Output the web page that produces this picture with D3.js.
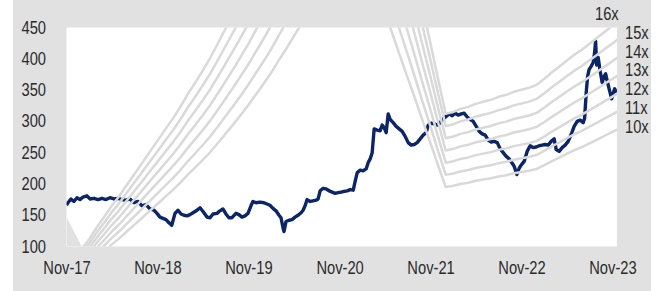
<!DOCTYPE html>
<html>
<head>
<meta charset="utf-8">
<title>PE bands</title>
<script src="https://d3js.org/d3.v7.min.js"></script>
<style>
  body { margin: 0; background: #fff; }
  .lbl { font-family: "Liberation Sans", Arial, sans-serif; font-size: 17.5px; fill: #2b2b2b; }
</style>
</head>
<body>
<div id="chart"></div>
<script>
// price, decimal year -> value
var price = [
  [2017.833,166],[2017.849,170],[2017.882,176],[2017.915,172],[2017.948,178],[2017.981,175],
  [2018.014,179],[2018.058,181],[2018.091,176],[2018.135,177],[2018.179,175],[2018.223,177],
  [2018.267,175],[2018.311,178],[2018.355,176],[2018.399,177],[2018.443,175],[2018.487,174],
  [2018.531,176],[2018.575,170],[2018.619,172],[2018.663,165],[2018.707,167],[2018.751,160],
  [2018.795,158],[2018.828,153],[2018.861,147],[2018.894,145],[2018.927,143],[2018.960,138],
  [2018.990,134],[2019.026,153],[2019.059,158],[2019.092,152],[2019.125,150],[2019.158,149],
  [2019.191,151],[2019.224,154],[2019.268,158],[2019.301,162],[2019.334,156],[2019.378,147],
  [2019.411,146],[2019.444,152],[2019.488,153],[2019.520,157],[2019.553,160],[2019.586,152],
  [2019.619,146],[2019.652,146],[2019.696,153],[2019.729,151],[2019.762,147],[2019.795,149],
  [2019.828,153],[2019.861,165],[2019.883,172],[2019.916,170],[2019.960,171],[2020.004,170],
  [2020.037,168],[2020.070,166],[2020.103,161],[2020.136,157],[2020.169,150],[2020.191,146],
  [2020.213,130],[2020.224,124],[2020.246,140],[2020.279,142],[2020.312,143],[2020.345,147],
  [2020.378,150],[2020.411,154],[2020.433,158],[2020.455,165],[2020.477,175],[2020.510,172],
  [2020.543,173],[2020.576,174],[2020.598,176],[2020.620,189],[2020.653,193],[2020.686,192],
  [2020.719,189],[2020.752,187],[2020.785,185],[2020.818,186],[2020.851,187],[2020.884,188],
  [2020.917,189],[2020.950,191],[2020.983,190],[2021.005,205],[2021.027,218],[2021.060,222],
  [2021.092,221],[2021.125,224],[2021.147,234],[2021.169,240],[2021.191,250],[2021.213,288],
  [2021.246,286],[2021.279,285],[2021.301,294],[2021.323,290],[2021.345,282],[2021.367,312],
  [2021.389,303],[2021.422,298],[2021.455,292],[2021.488,288],[2021.521,284],[2021.554,276],
  [2021.587,266],[2021.620,262],[2021.653,263],[2021.686,266],[2021.719,272],[2021.752,278],
  [2021.785,282],[2021.807,294],[2021.840,297],[2021.873,296],[2021.906,294],[2021.939,298],
  [2021.972,304],[2022.005,308],[2022.038,312],[2022.071,309],[2022.104,313],[2022.137,310],
  [2022.170,312],[2022.203,313],[2022.236,307],[2022.269,303],[2022.302,300],[2022.335,292],
  [2022.368,284],[2022.401,280],[2022.434,278],[2022.467,270],[2022.500,267],[2022.533,268],
  [2022.566,266],[2022.599,256],[2022.632,250],[2022.665,244],[2022.698,240],[2022.731,233],
  [2022.753,228],[2022.782,215],[2022.807,225],[2022.829,230],[2022.862,236],[2022.895,252],
  [2022.928,261],[2022.961,258],[2022.994,259],[2023.027,261],[2023.060,262],[2023.093,263],
  [2023.126,262],[2023.159,268],[2023.192,272],[2023.214,255],[2023.247,252],[2023.280,258],
  [2023.313,262],[2023.346,268],[2023.379,279],[2023.412,292],[2023.445,300],[2023.478,302],
  [2023.511,298],[2023.527,305],[2023.544,345],[2023.560,372],[2023.577,383],[2023.599,388],
  [2023.621,394],[2023.637,410],[2023.648,428],[2023.659,390],[2023.676,402],[2023.698,380],
  [2023.720,362],[2023.742,372],[2023.758,376],[2023.775,365],[2023.791,355],[2023.808,345],
  [2023.824,336],[2023.841,345],[2023.857,352],[2023.879,346]
];

// forward EPS used for the PE bands, by month
var eps = [
  ["2017-11",4.0],["2017-12",5.0],["2018-01",6.0],["2018-02",7.0],["2018-03",8.1],["2018-04",9.2],
  ["2018-05",10.3],["2018-06",11.3],["2018-07",12.4],["2018-08",13.5],["2018-09",14.6],["2018-10",15.7],
  ["2018-11",16.8],["2018-12",17.9],["2019-01",19.0],["2019-02",20.2],["2019-03",21.4],["2019-04",22.6],
  ["2019-05",23.8],["2019-06",25.1],["2019-07",26.5],["2019-08",28.0],["2019-09",29.5],["2019-10",31.0],
  ["2019-11",32.6],["2019-12",34.3],["2020-01",36.0],["2020-02",37.8],["2020-03",39.7],["2020-04",41.6],
  ["2020-05",43.6],["2020-06",45.6],["2020-07",47.6],["2020-08",49.7],["2020-09",52.0],["2020-10",54.5],
  ["2020-11",57.0],["2020-12",59.0],["2021-01",60.0],["2021-02",58.0],["2021-03",54.5],["2021-04",51.0],
  ["2021-05",47.5],["2021-06",44.0],["2021-07",40.5],["2021-08",37.0],["2021-09",33.5],["2021-10",30.0],
  ["2021-11",26.5],["2021-12",23.0],["2022-01",19.5],["2022-02",19.7],["2022-03",20.0],["2022-04",20.2],
  ["2022-05",20.5],["2022-06",20.7],["2022-07",20.9],["2022-08",21.2],["2022-09",21.4],["2022-10",21.7],
  ["2022-11",21.9],["2022-12",22.1],["2023-01",22.4],["2023-02",23.0],["2023-03",23.6],["2023-04",24.2],
  ["2023-05",24.8],["2023-06",25.4],["2023-07",25.9],["2023-08",26.5],["2023-09",27.1],["2023-10",27.7],
  ["2023-11",28.3],["2023-12",28.9]
];

var multiples = [10, 11, 12, 13, 14, 15, 16];
var yTicks = [100, 150, 200, 250, 300, 350, 400, 450];
var xTickYears = [2017, 2018, 2019, 2020, 2021, 2022, 2023];
var xStart = 2017.833, xEnd = 2023.883;
// grey corner bottom-left of the plot
var corner = [[2017.833, 147], [2018.0, 100], [2017.833, 100]];

function decToDate(t) {
  var y = Math.floor(t);
  var a = Date.UTC(y, 0, 1), b = Date.UTC(y + 1, 0, 1);
  return new Date(a + (t - y) * (b - a));
}
var parseMonth = d3.utcParse("%Y-%m");

var W = 657, H = 291;
var sx = 0.84; // narrow the font
var margin = {top: 27.5, right: 40, bottom: 44.5, left: 66.5};
var w = W - margin.left - margin.right;
var h = H - margin.top - margin.bottom;

var svg = d3.select("#chart").append("svg")
    .attr("width", W).attr("height", H);

svg.append("rect").attr("x", 13).attr("y", 0).attr("width", 638).attr("height", H)
    .attr("fill", "#e1e1e1");

var g = svg.append("g").attr("transform", "translate(" + margin.left + "," + margin.top + ")");

var x = d3.scaleUtc().domain([decToDate(xStart), decToDate(xEnd)]).range([0, w]);
var y = d3.scaleLinear().domain([100, 450]).range([h, 0]);

g.append("clipPath").attr("id", "clip").append("rect")
    .attr("width", w).attr("height", h);

g.append("rect").attr("width", w).attr("height", h).attr("fill", "#fff");

var area = g.append("g").attr("clip-path", "url(#clip)");

area.append("path")
    .datum(corner)
    .attr("fill", "#e1e1e1")
    .attr("d", d3.line().x(d => x(decToDate(d[0]))).y(d => y(d[1])));

area.append("path")
    .datum(price)
    .attr("fill", "none")
    .attr("stroke", "#0c2468")
    .attr("stroke-width", 3.4)
    .attr("stroke-linejoin", "round")
    .attr("d", d3.line().x(d => x(decToDate(d[0]))).y(d => y(d[1])));

var band = d3.line().x(d => x(parseMonth(d[0]))).y(d => y(d[1]));
multiples.forEach(function(m) {
  area.append("path")
      .datum(eps.map(d => [d[0], d[1] * m]))
      .attr("fill", "none")
      .attr("stroke", "#d9d9d9")
      .attr("stroke-width", 2.5)
      .attr("stroke-linejoin", "round")
      .attr("d", band);
});

// axes, labels only
var xAxis = d3.axisBottom(x)
    .tickValues(xTickYears.map(yr => new Date(Date.UTC(yr, 10, 1))))
    .tickFormat(d3.utcFormat("%b-%y"))
    .tickSize(0).tickPadding(15.5);
g.append("g").attr("transform", "translate(0," + h + ")").call(xAxis)
  .call(s => s.select(".domain").remove())
  .selectAll("text").attr("class", "lbl").attr("fill", null)
  .attr("transform", "scale(" + sx + ",1)");

var yAxis = d3.axisLeft(y).tickValues(yTicks).tickSize(0);
g.append("g").call(yAxis)
  .call(s => s.select(".domain").remove())
  .selectAll("text").attr("class", "lbl").attr("fill", null)
  .attr("x", -20.5 / sx)
  .attr("transform", "scale(" + sx + ",1)");

// multiple labels on the right
svg.selectAll(".mult")
  .data(multiples.slice().reverse())
  .enter().append("text")
    .attr("class", "lbl")
    .attr("transform", (d, i) => "translate(" + (i == 0 ? 595 : 625) + "," +
          (i == 0 ? 20 : 39 + (i - 1) * 18.7) + ") scale(" + sx + ",1)")
    .text(d => d + "x");
</script>
</body>
</html>
